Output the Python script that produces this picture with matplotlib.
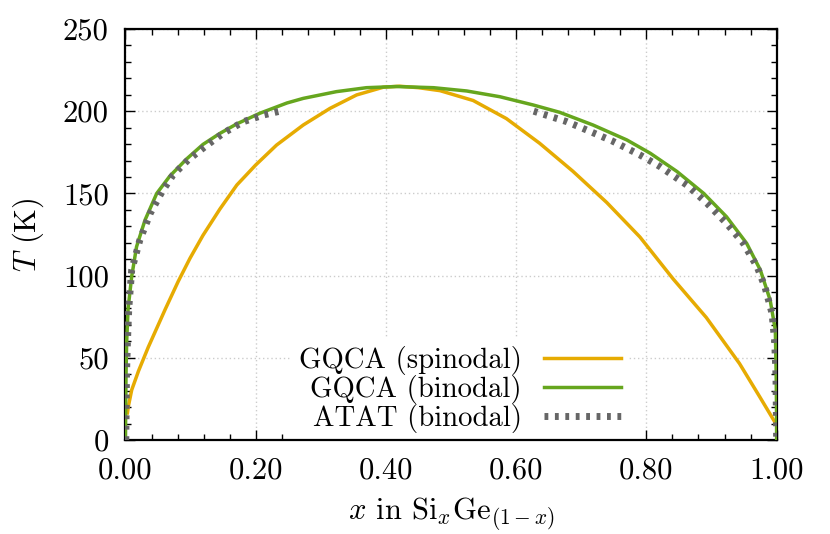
import numpy as np
import matplotlib
matplotlib.use('Agg')
import matplotlib.pyplot as plt
from matplotlib.ticker import MultipleLocator, FormatStrFormatter

# Data
#################
spin_x = [0.003, 0.0043, 0.0095, 0.020, 0.035, 0.061, 0.081, 0.099, 0.119, 0.145, 0.171,
          0.200, 0.232, 0.273, 0.314, 0.355, 0.396, 0.421, 0.450, 0.483, 0.534, 0.585,
          0.636, 0.687, 0.739, 0.790, 0.841, 0.892, 0.943, 0.974, 0.997]
spin_T = [16.5, 20.3, 30.4, 42.0, 56.5, 79.5, 96.5, 110.5, 124.5, 140.5, 155.1,
          167.3, 179.4, 191.6, 201.7, 209.9, 214.6, 215.2, 214.3, 212.5, 206.5, 195.5,
          180.5, 163.5, 144.5, 123.5, 98.0, 74.5, 46.5, 26.3, 11.1]

bin_x = [0.0, 0.0003, 0.0008, 0.0018, 0.004, 0.0095, 0.017, 0.030, 0.048, 0.068, 0.094,
         0.119, 0.145, 0.171, 0.206, 0.248, 0.273, 0.324, 0.370, 0.416, 0.473, 0.524,
         0.575, 0.626, 0.667, 0.718, 0.770, 0.806, 0.847, 0.888, 0.923, 0.954, 0.975,
         0.990, 0.998, 0.9993, 0.9998, 1.0]
bin_T = [0.0, 20.0, 40.0, 60.0, 80.0, 99.4, 117.6, 133.8, 150.0, 160.5, 171.0,
         179.8, 186.5, 192.3, 198.7, 205.0, 207.8, 211.9, 214.3, 215.0, 214.3, 212.3,
         208.8, 203.8, 199.3, 191.6, 182.5, 174.4, 163.3, 150.0, 135.8, 119.6, 103.4,
         85.2, 67.0, 40.0, 20.0, 0.0]

atat_left_x = [0.0005, 0.001, 0.0015, 0.003, 0.005, 0.0095, 0.022, 0.038, 0.056, 0.073,
               0.096, 0.122, 0.150, 0.181, 0.212, 0.237]
atat_left_T = [0.0, 20.0, 40.0, 60.0, 80.0, 103.4, 121.6, 137.9, 151.0, 161.2,
               170.3, 178.4, 186.6, 193.6, 197.7, 200.0]

atat_right_x = [0.627, 0.678, 0.708, 0.747, 0.790, 0.821, 0.862, 0.893, 0.923, 0.949,
                0.970, 0.982, 0.993, 0.997, 0.999, 0.9995, 1.0]
atat_right_T = [200.0, 193.6, 188.6, 182.0, 173.4, 166.3, 155.1, 144.0, 131.8, 119.6,
                105.4, 93.2, 77.0, 60.0, 40.0, 20.0, 0.0]
#################

# Style
#################
plt.rcParams['font.family'] = 'cmr10'
plt.rcParams['mathtext.fontset'] = 'cm'
plt.rcParams['axes.unicode_minus'] = False
plt.rcParams['axes.formatter.use_mathtext'] = True
fs = 22
#################

fig = plt.figure(figsize=(8.3, 5.34), dpi=100)
ax = fig.add_axes([0.1512, 0.176, 0.7845, 0.7697])

ax.plot(spin_x, spin_T, color='#E6AB02', lw=2.5, label='GQCA (spinodal)', zorder=3)
ax.plot(bin_x, bin_T, color='#66A61E', lw=2.5, label='GQCA (binodal)', zorder=4)
ax.plot(atat_left_x, atat_left_T, color='#666666', lw=5, dashes=(0.55, 0.95),
        dash_capstyle='butt', label='ATAT (binodal)', zorder=5)
ax.plot(atat_right_x, atat_right_T, color='#666666', lw=5, dashes=(0.55, 0.95),
        dash_capstyle='butt', zorder=5)

ax.set_xlim(0, 1)
ax.set_ylim(0, 250)
ax.xaxis.set_major_locator(MultipleLocator(0.2))
ax.xaxis.set_minor_locator(MultipleLocator(0.04))
ax.yaxis.set_major_locator(MultipleLocator(50))
ax.yaxis.set_minor_locator(MultipleLocator(10))
ax.xaxis.set_major_formatter(FormatStrFormatter('%.2f'))
ax.yaxis.set_major_formatter(FormatStrFormatter('%d'))

ax.tick_params(which='both', direction='in', top=True, right=True, labelsize=fs, width=1)
ax.tick_params(which='major', length=7, pad=12)
ax.tick_params(which='minor', length=4)
for s in ax.spines.values():
    s.set_linewidth(1.6)

ax.grid(True, which='major', color='#cccccc', lw=1, linestyle=(0, (1, 2)), zorder=0)
ax.set_axisbelow(True)

ax.set_xlabel(r'$x$ in Si$_x$Ge$_{(1-x)}$', fontsize=fs, labelpad=8)
ax.set_ylabel(r'$T$ (K)', fontsize=fs, labelpad=12)

leg = ax.legend(loc='lower right', bbox_to_anchor=(0.772, 0.0), fontsize=20.7,
                markerfirst=False, frameon=True, fancybox=False, edgecolor='none',
                facecolor='white', framealpha=1, borderaxespad=0, borderpad=0.25,
                handlelength=2.68, handletextpad=0.77, labelspacing=0.0)
leg.set_zorder(2)

plt.savefig('out.png', dpi=100)
plt.close()
